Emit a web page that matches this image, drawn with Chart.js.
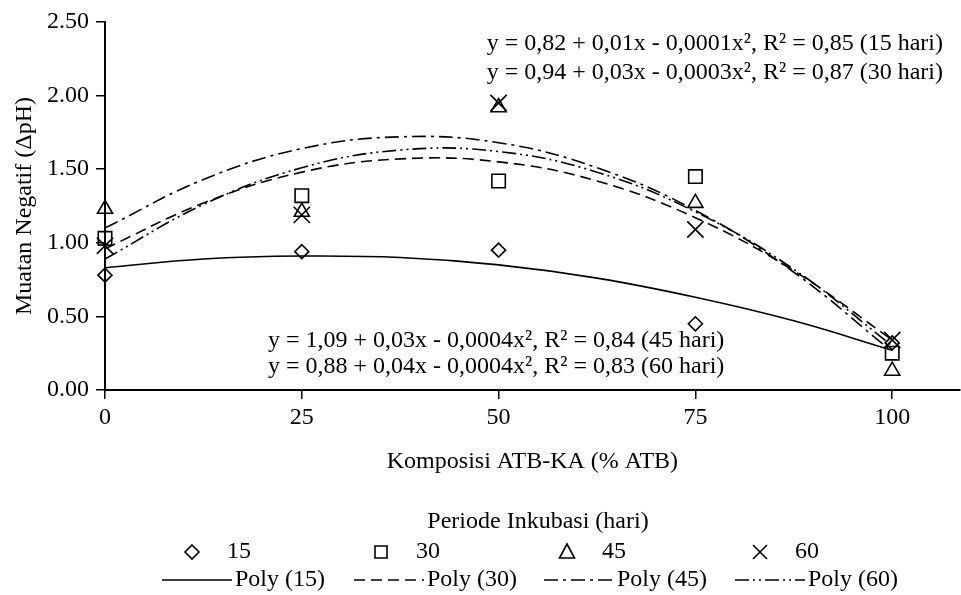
<!DOCTYPE html>
<html>
<head>
<meta charset="utf-8">
<script src="https://cdn.jsdelivr.net/npm/chart.js@4.4.1/dist/chart.umd.min.js"></script>
<style>
    html, body { margin: 0; padding: 0; background: #fff; overflow: hidden; }
    #muatanChart { display: block; }
</style>
</head>
<body>
<!-- a bit wider than the window: chart.js keeps ~12px spare on the right -->
<canvas id="muatanChart" width="973" height="595"></canvas>
<script>
// composition (% ATB) where samples were taken
const komposisi = [0, 25, 50, 75, 100];

// measured negative charge (delta pH) per incubation period
const hari15 = [0.78, 0.94, 0.95, 0.45, 0.32];
const hari30 = [1.03, 1.32, 1.42, 1.45, 0.25];
const hari45 = [1.23, 1.21, 1.92, 1.27, 0.13];
const hari60 = [0.98, 1.19, 1.95, 1.09, 0.34];

// trend lines
const trendX = [0, 12.5, 25, 37.5, 50, 62.5, 75, 87.5, 100];
const poly15 = [0.83, 0.89, 0.91, 0.90, 0.85, 0.76, 0.63, 0.47, 0.27];
const poly30 = [0.96, 1.27, 1.48, 1.57, 1.55, 1.42, 1.17, 0.81, 0.34];
const poly45 = [1.10, 1.43, 1.64, 1.72, 1.68, 1.51, 1.22, 0.80, 0.26];
const poly60 = [0.89, 1.26, 1.51, 1.63, 1.62, 1.48, 1.21, 0.82, 0.30];

const xTicks = [0, 25, 50, 75, 100];
const yTicks = [0, 0.5, 1, 1.5, 2, 2.5];

const persamaan = [
    "y = 0,82 + 0,01x - 0,0001x², R² = 0,85 (15 hari)",
    "y = 0,94 + 0,03x - 0,0003x², R² = 0,87 (30 hari)",
    "y = 1,09 + 0,03x - 0,0004x², R² = 0,84 (45 hari)",
    "y = 0,88 + 0,04x - 0,0004x², R² = 0,83 (60 hari)",
];

const serif = "'Liberation Serif', 'Times New Roman', serif";
const font = { family: serif, size: 24 };

const dash30 = [11, 6];
const dash45 = [14, 5, 3, 5];
const dash60 = [14, 4, 2, 4, 2, 4];

const toPoints = (xs, ys) => xs.map((x, i) => ({ x: x, y: ys[i] }));

const markerSet = (label, data, style, radius) => ({
    label: label,
    data: toPoints(komposisi, data),
    showLine: false,
    clip: false,
    pointStyle: style,
    pointRadius: radius,
    pointBackgroundColor: "rgba(255,255,255,0)",
    pointBorderColor: "#000",
    pointBorderWidth: 1.6,
});

const trendSet = (label, data, dash) => ({
    label: label,
    data: toPoints(trendX, data),
    showLine: true,
    clip: false,
    borderColor: "#000",
    borderWidth: 1.6,
    borderDash: dash,
    tension: 0.4,
    pointRadius: 0,
    fill: false,
});

// small marker drawer for the hand-made legend
const drawMarker = (ctx, style, x, y) => {
    ctx.beginPath();
    if (style === "diamond") {
        ctx.moveTo(x, y - 7); ctx.lineTo(x + 7, y); ctx.lineTo(x, y + 7); ctx.lineTo(x - 7, y); ctx.closePath();
    } else if (style === "square") {
        ctx.rect(x - 6, y - 6, 12, 12);
    } else if (style === "triangle") {
        ctx.moveTo(x, y - 8); ctx.lineTo(x + 7.5, y + 6); ctx.lineTo(x - 7.5, y + 6); ctx.closePath();
    } else {
        ctx.moveTo(x - 7, y - 7); ctx.lineTo(x + 7, y + 7);
        ctx.moveTo(x + 7, y - 7); ctx.lineTo(x - 7, y + 7);
    }
    ctx.stroke();
};

const annotasi = {
    id: "annotasi",
    afterDraw(chart) {
        const ctx = chart.ctx;
        ctx.save();
        ctx.fillStyle = "#000";
        ctx.strokeStyle = "#000";
        ctx.font = "24px " + serif;
        ctx.textBaseline = "middle";

        // regression equations
        ctx.textAlign = "right";
        ctx.fillText(persamaan[0], 943, 44);
        ctx.fillText(persamaan[1], 943, 73);
        ctx.textAlign = "left";
        ctx.fillText(persamaan[2], 268, 341);
        ctx.fillText(persamaan[3], 268, 367);

        // legend
        ctx.textAlign = "center";
        ctx.fillText("Periode Inkubasi (hari)", 538, 522);

        ctx.textAlign = "left";
        ctx.lineWidth = 1.6;
        const markers = [["diamond", 192, "15"], ["square", 381, "30"], ["triangle", 567, "45"], ["cross", 760, "60"]];
        markers.forEach((m) => {
            drawMarker(ctx, m[0], m[1], 552);
            ctx.fillText(m[2], m[1] + 35, 552);
        });

        const lines = [[[], 162, "Poly (15)"], [dash30, 354, "Poly (30)"], [dash45, 544, "Poly (45)"], [dash60, 735, "Poly (60)"]];
        lines.forEach((l) => {
            ctx.setLineDash(l[0]);
            ctx.beginPath();
            ctx.moveTo(l[1], 580);
            ctx.lineTo(l[1] + 70, 580);
            ctx.stroke();
            ctx.setLineDash([]);
            ctx.fillText(l[2], l[1] + 73, 580);
        });
        ctx.restore();
    },
};

const ctx = document.getElementById("muatanChart").getContext("2d");

window.muatanChart = new Chart(ctx, {
    type: "scatter",
    data: {
        datasets: [
            markerSet("15", hari15, "rectRot", 7),
            markerSet("30", hari30, "rect", 9.5),
            markerSet("45", hari45, "triangle", 8.7),
            markerSet("60", hari60, "crossRot", 11.5),
            trendSet("Poly (15)", poly15, []),
            trendSet("Poly (30)", poly30, dash30),
            trendSet("Poly (45)", poly45, dash45),
            trendSet("Poly (60)", poly60, dash60),
        ],
    },
    plugins: [annotasi],
    options: {
        responsive: false,
        animation: false,
        layout: {
            padding: { top: 22, right: 0, bottom: 119, left: 0 },
        },
        plugins: {
            legend: { display: false },
            tooltip: { enabled: false },
        },
        scales: {
            x: {
                type: "linear",
                min: 0,
                max: 108.6,
                afterBuildTicks: (scale) => {
                    scale.ticks = xTicks.map((v) => ({ value: v }));
                },
                afterFit: (scale) => {
                    scale.height = 86;
                },
                grid: {
                    drawOnChartArea: false,
                    drawTicks: true,
                    tickLength: 9,
                    color: "#000",
                    lineWidth: 1.5,
                },
                border: { color: "#000", width: 2 },
                ticks: {
                    color: "#000",
                    font: font,
                    padding: 4,
                    maxRotation: 0,
                    autoSkip: false,
                },
                title: {
                    display: true,
                    text: "Komposisi ATB-KA (% ATB)",
                    color: "#000",
                    font: font,
                    padding: 0,
                },
            },
            y: {
                min: 0,
                max: 2.5,
                afterBuildTicks: (scale) => {
                    scale.ticks = yTicks.map((v) => ({ value: v }));
                },
                afterFit: (scale) => {
                    scale.width = 105;
                },
                grid: {
                    drawOnChartArea: false,
                    drawTicks: true,
                    tickLength: 9,
                    color: "#000",
                    lineWidth: 1.5,
                },
                border: { color: "#000", width: 2 },
                ticks: {
                    color: "#000",
                    font: font,
                    padding: 7,
                    callback: (v) => v.toFixed(2),
                },
                title: {
                    display: true,
                    text: "Muatan Negatif (ΔpH)",
                    color: "#000",
                    font: font,
                    padding: { top: 10, bottom: 0 },
                },
            },
        },
    },
});
</script>
</body>
</html>
